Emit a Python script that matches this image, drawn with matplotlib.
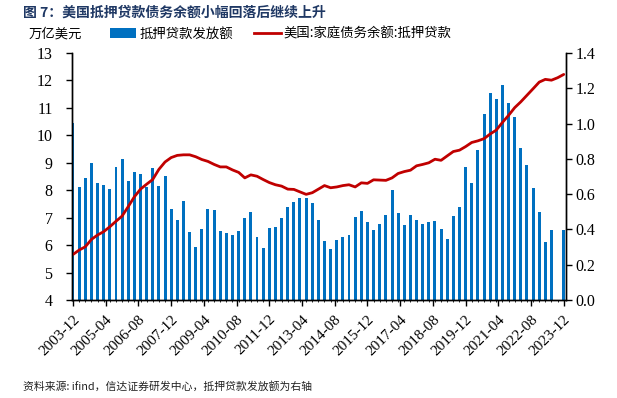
import numpy as np
import pandas as pd
import matplotlib
matplotlib.use("Agg")
import matplotlib.pyplot as plt
import matplotlib.dates as mdates
from matplotlib.patches import Patch
from matplotlib.lines import Line2D

plt.rcParams['font.family'] = ['Noto Sans CJK SC', 'DejaVu Sans']

# quarterly data, 2003-12 .. 2023-12
dates = pd.date_range('2003-12-01', periods=81, freq='3MS')

# 抵押贷款发放额 (万亿美元, right axis)
originations = [
    1.004, 0.638, 0.693, 0.778, 0.662, 0.653, 0.629, 0.755, 0.797, 0.672,
    0.725, 0.712, 0.640, 0.751, 0.646, 0.704, 0.517, 0.455, 0.561, 0.385,
    0.302, 0.400, 0.517, 0.511, 0.389, 0.381, 0.368, 0.393, 0.466, 0.500,
    0.355, 0.296, 0.406, 0.412, 0.464, 0.525, 0.557, 0.578, 0.578, 0.551,
    0.451, 0.334, 0.291, 0.340, 0.357, 0.370, 0.470, 0.504, 0.442, 0.395,
    0.430, 0.480, 0.621, 0.494, 0.425, 0.483, 0.455, 0.432, 0.440, 0.447,
    0.404, 0.345, 0.477, 0.530, 0.755, 0.664, 0.851, 1.053, 1.174, 1.142,
    1.221, 1.117, 1.038, 0.861, 0.763, 0.636, 0.498, 0.327, 0.396, np.nan,
    0.395,
]

# 美国:家庭债务余额:抵押贷款 (万亿美元, left axis)
mortgage_debt = [
    5.66, 5.82, 5.94, 6.21, 6.37, 6.49, 6.67, 6.87, 7.06, 7.40,
    7.76, 8.04, 8.22, 8.39, 8.76, 9.03, 9.19, 9.27, 9.29, 9.29,
    9.22, 9.12, 9.05, 8.94, 8.85, 8.85, 8.74, 8.65, 8.45, 8.56,
    8.51, 8.39, 8.28, 8.20, 8.15, 8.04, 8.03, 7.94, 7.85, 7.91,
    8.04, 8.17, 8.09, 8.12, 8.17, 8.20, 8.12, 8.27, 8.25, 8.38,
    8.37, 8.36, 8.45, 8.61, 8.68, 8.73, 8.89, 8.94, 9.00, 9.13,
    9.09, 9.25, 9.41, 9.46, 9.59, 9.74, 9.80, 9.88, 10.05, 10.19,
    10.47, 10.73, 11.01, 11.22, 11.46, 11.70, 11.94, 12.04, 12.01, 12.10,
    12.22,
]

tick_dates = pd.date_range('2003-12-01', '2023-12-01', freq='16MS')

bar_color = '#0070C0'
line_color = '#C00000'
serif = ['Liberation Serif', 'DejaVu Serif']

fig = plt.figure(figsize=(6.17, 3.98), dpi=100)
ax = fig.add_axes([0.1167, 0.2462, 0.8006, 0.6206])
ax2 = ax.twinx()

ax2.bar(dates, originations, width=44, color=bar_color, align='center')
ax.plot(dates, mortgage_debt, color=line_color, lw=2.0, solid_capstyle='round')

# line above bars
ax.set_zorder(ax2.get_zorder() + 1)
ax.patch.set_visible(False)

ax.set_xlim(dates[0] - pd.Timedelta(days=15), dates[-1] + pd.Timedelta(days=33))
ax.set_ylim(4, 13)
ax2.set_ylim(0, 1.4)
ax.set_yticks(range(4, 14))
ax2.set_yticks(np.arange(0, 1.41, 0.2))
ax2.set_yticklabels([f'{v:.1f}' for v in np.arange(0, 1.41, 0.2)])

ax.set_xticks(tick_dates)
ax.set_xticklabels(tick_dates.strftime('%Y-%m'), rotation=45, ha='right',
                   rotation_mode='anchor', family=serif, fontsize=11)
ax.xaxis.set_minor_locator(mdates.MonthLocator(bymonth=[3, 6, 9, 12]))

for a in (ax, ax2):
    a.spines['top'].set_visible(False)
    for s in ('left', 'right', 'bottom'):
        a.spines[s].set_linewidth(1.0)
        a.spines[s].set_color('black')
ax.tick_params(axis='y', direction='out', length=4, width=1, pad=10, labelsize=11.5)
ax2.tick_params(axis='y', direction='out', length=4, width=1, pad=3, labelsize=11.5)
ax.tick_params(axis='x', which='major', direction='out', length=4, width=1, pad=5)
ax.tick_params(axis='x', which='minor', direction='out', length=1.5, width=0.6)
for lab in ax.get_yticklabels() + ax2.get_yticklabels():
    lab.set_family(serif)

# title
fig.text(0.037, 0.968, '图 7：美国抵押贷款债务余额小幅回落后继续上升',
         fontsize=10, fontweight='bold', color='#1F3864', va='center', ha='left')

# legend row
fig.text(0.047, 0.916, '万亿美元', fontsize=9.6, va='center', ha='left')
handles = [Patch(facecolor=bar_color, edgecolor='none'),
           Line2D([0], [0], color=line_color, lw=2.0)]
fig.legend(handles, ['抵押贷款发放额', '美国:家庭债务余额:抵押贷款'],
           loc='center left', bbox_to_anchor=(0.178, 0.916), ncol=2, frameon=False,
           fontsize=9.6, handlelength=2.0, handleheight=0.8, handletextpad=0.2,
           columnspacing=1.6, borderpad=0, borderaxespad=0)

# source
fig.text(0.038, 0.03, '资料来源: ifind，信达证券研发中心，抵押贷款发放额为右轴',
         fontsize=7.8, va='center', ha='left', color='#222222')

fig.savefig('out.png', dpi=100)
